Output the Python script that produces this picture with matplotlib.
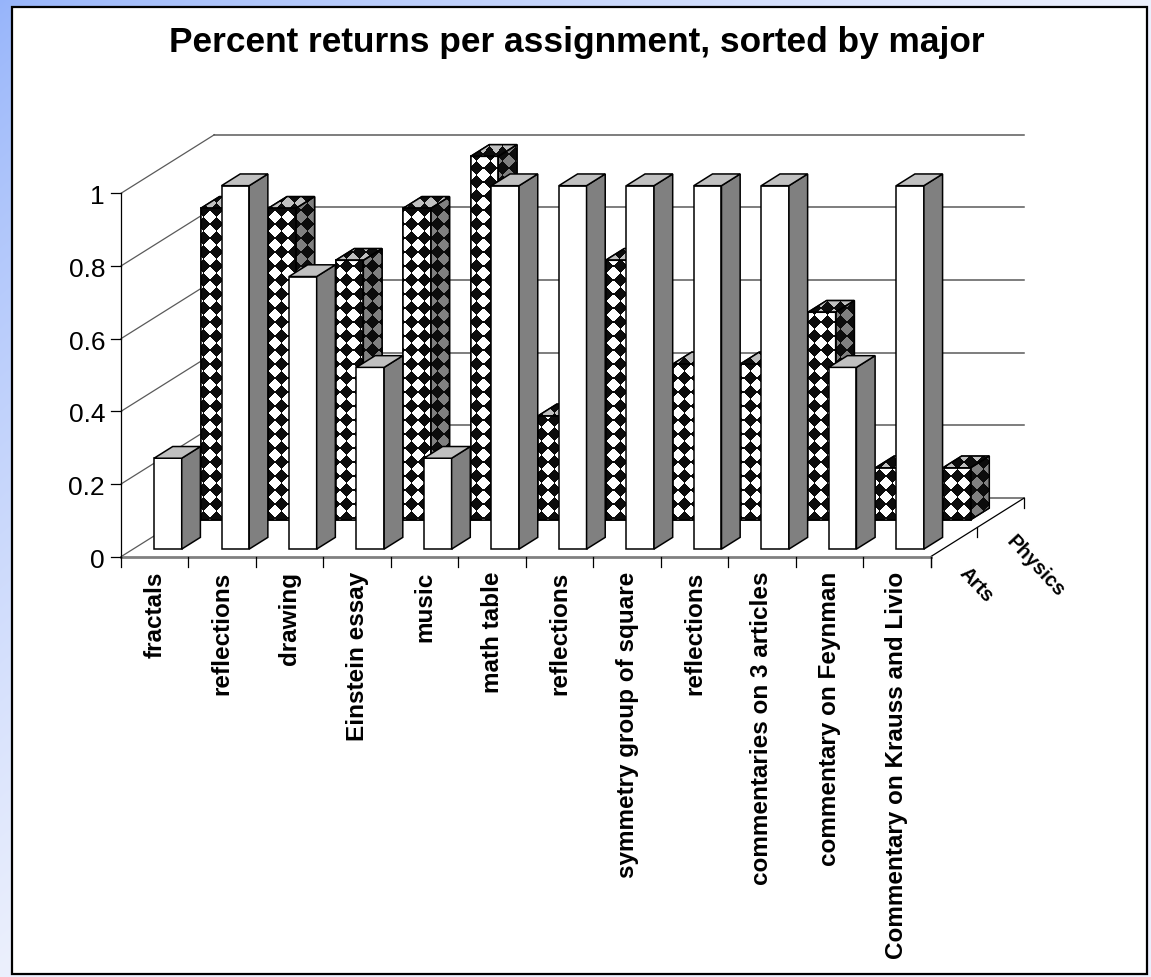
import numpy as np
import matplotlib
matplotlib.use("Agg")
import matplotlib.pyplot as plt
from matplotlib.patches import Polygon, Rectangle

# ---------------- data ----------------
categories = ["fractals", "reflections", "drawing", "Einstein essay", "music",
              "math table", "reflections", "symmetry group of square",
              "reflections", "commentaries on 3 articles",
              "commentary on Feynman", "Commentary on Krauss and Livio"]
series_names = ["Arts", "Physics"]
arts = [0.25, 1.0, 0.75, 0.5, 0.25, 1.0, 1.0, 1.0, 1.0, 1.0, 0.5, 1.0]
physics = [0.857, 0.857, 0.714, 0.857, 1.0, 0.286, 0.714, 0.429, 0.429,
           0.571, 0.143, 0.143]
yticks = [0, 0.2, 0.4, 0.6, 0.8, 1.0]
ytick_labels = ["0", "0.2", "0.4", "0.6", "0.8", "1"]
title = "Percent returns per assignment, sorted by major"

# ---------------- geometry / style ----------------
W, H = 1151, 977
X0PX, Y0PX = 121.0, 556.7      # pixel position of the front-left floor corner
PX, PY = 67.47, 363.4          # pixels per category, pixels per value unit
DX, DY = 93.4 / PX, 58.6 / PY  # full-depth oblique offset in data units
BX0, BW = 0.31, 0.41           # bar left offset and width within a category
ROW_D = {"Arts": (0.13, 0.33), "Physics": (0.63, 0.83)}
FONT = "Liberation Sans"
plt.rcParams["font.family"] = [FONT, "DejaVu Sans"]

n = len(categories)

fig = plt.figure(figsize=(W / 100, H / 100), dpi=100)

# background gradient + white chart area
bg = fig.add_axes([0, 0, 1, 1], zorder=-10)
gy, gx = np.mgrid[0:H, 0:W]
t = np.clip(gx / W + gy / H, 0, 1) ** 0.8
c0 = np.array([150, 180, 250]) / 255.0
c1 = np.array([236, 240, 253]) / 255.0
grad = c0[None, None, :] * (1 - t[..., None]) + c1[None, None, :] * t[..., None]
bg.imshow(grad, aspect="auto", extent=(0, 1, 0, 1), origin="upper")
bg.add_patch(Rectangle((12 / W, 1 - 974 / H), (1147 - 12) / W, (974 - 7) / H,
                       transform=bg.transAxes, facecolor="white",
                       edgecolor="black", lw=1.6))
bg.set_xlim(0, 1)
bg.set_ylim(0, 1)
bg.axis("off")

ax = fig.add_axes([0, 0, 1, 1])
ax.axis("off")
XL = (-X0PX / PX, (W - X0PX) / PX)
YL = ((Y0PX - H) / PY, Y0PX / PY)


def P(x, v, d):
    return (x + d * DX, v + d * DY)


def to_px(x, v):
    return X0PX + x * PX, Y0PX - v * PY


def to_data(px, py):
    return (px - X0PX) / PX, (Y0PX - py) / PY


# diamond (rotated checkerboard) pattern in pixel space
ppx, ppy = 13.0, 14.0
yy, xx = np.mgrid[0:H, 0:W] + 0.5
a = np.mod(xx - 210, ppx) / ppx
b = np.mod(yy - 287, ppy) / ppy
black = (np.abs(a - 0.5) + np.abs(b - 0.5)) < 0.5


def pattern(color):
    c = np.array(matplotlib.colors.to_rgb(color))
    img = np.ones((H, W, 3)) * c[None, None, :]
    img[black] = (0.05, 0.05, 0.05)
    return (img * 255).astype(np.uint8)


PAT = {"front": pattern("white"), "side": pattern("#808080"),
       "top": pattern("#c0c0c0")}


def pattern_fill(patch_verts, clip_patch, kind, z):
    pts = np.array([to_px(x, v) for x, v in patch_verts])
    px0 = max(int(np.floor(pts[:, 0].min())) - 2, 0)
    px1 = min(int(np.ceil(pts[:, 0].max())) + 2, W)
    py0 = max(int(np.floor(pts[:, 1].min())) - 2, 0)
    py1 = min(int(np.ceil(pts[:, 1].max())) + 2, H)
    sub = PAT[kind][py0:py1, px0:px1]
    xa, vt = to_data(px0, py0)
    xb, vb = to_data(px1, py1)
    im = ax.imshow(sub, extent=(xa, xb, vb, vt), origin="upper",
                   aspect="auto", interpolation="nearest", zorder=z)
    im.set_clip_path(clip_patch)


gridc = "#5a5a5a"
# walls: gridlines
for v in yticks:
    ax.plot([0, DX], [v, v + DY], color=gridc, lw=0.9, zorder=1)
    ax.plot([DX, n + DX], [v + DY, v + DY], color=gridc, lw=1.1, zorder=1)

# floor edges
ax.plot([n, n + DX], [0, DY], color="black", lw=0.9, zorder=2)
ax.plot([0, n], [0, 0], color="#808080", lw=2.0, zorder=2)

# value axis + ticks + labels
ax.plot([0, 0], [0, 1], color="black", lw=0.9, zorder=2)
for v, lbl in zip(yticks, ytick_labels):
    ax.plot([-10 / PX, 0], [v, v], color="black", lw=0.9, zorder=2)
    ax.annotate(lbl, xy=(0, v), xytext=(-16, -11), textcoords="offset pixels",
                ha="right", va="baseline", fontsize=19, family=FONT)

# category ticks + labels
for k in range(n + 1):
    ax.plot([k, k], [0, -10 / PY], color="black", lw=0.9, zorder=2)
for i, cat in enumerate(categories):
    ax.annotate(cat, xy=(i + 0.5, 0), xytext=(0, -15), textcoords="offset pixels",
                rotation=90, ha="center", va="top", fontsize=17.5,
                fontweight="bold", family=FONT)

# depth ticks + series labels
for d in (0, 0.5, 1.0):
    ax.plot([n + d * DX] * 2, [d * DY, d * DY - 10 / PY], color="black",
            lw=0.9, zorder=2)
for name, off in zip(series_names, [(24, -42), (37, -52)]):
    d0, d1 = ROW_D[name]
    dm = 0.5 * (d0 + d1)
    ax.annotate(name, xy=P(n, 0, dm), xytext=off, textcoords="offset pixels",
                rotation=-47, ha="center", va="center", fontsize=14.5,
                fontweight="bold", family=FONT)

# bars
edge_lw = 1.1


def draw_series(name, values, zbase, patterned):
    d0, d1 = ROW_D[name]
    lefts = [i + BX0 + d0 * DX for i in range(n)]
    bars = ax.bar(lefts, values, width=BW, bottom=d0 * DY, align="edge",
                  color="white", edgecolor="black", lw=edge_lw, zorder=zbase)
    for i, (bar, v) in enumerate(zip(bars, values)):
        x0 = i + BX0
        x1 = x0 + BW
        side_v = [P(x1, 0, d0), P(x1, 0, d1), P(x1, v, d1), P(x1, v, d0)]
        top_v = [P(x0, v, d0), P(x1, v, d0), P(x1, v, d1), P(x0, v, d1)]
        front_v = [P(x0, 0, d0), P(x1, 0, d0), P(x1, v, d0), P(x0, v, d0)]
        side = Polygon(side_v, closed=True, facecolor="#808080",
                       edgecolor="black", lw=edge_lw, zorder=zbase)
        top = Polygon(top_v, closed=True, facecolor="#c0c0c0",
                      edgecolor="black", lw=edge_lw, zorder=zbase)
        ax.add_patch(side)
        ax.add_patch(top)
        if patterned:
            pattern_fill(front_v, bar, "front", zbase + 0.3)
            pattern_fill(side_v, side, "side", zbase + 0.3)
            pattern_fill(top_v, top, "top", zbase + 0.3)
            for verts in (front_v, side_v, top_v):
                ax.add_patch(Polygon(verts, closed=True, facecolor="none",
                                     edgecolor="black", lw=edge_lw,
                                     joinstyle="miter", zorder=zbase + 0.6))


draw_series("Physics", physics, 10, True)
draw_series("Arts", arts, 20, False)

ax.set_xlim(*XL)
ax.set_ylim(*YL)
ax.set_autoscale_on(False)

fig.text(577 / W, 1 - 52 / H, title, ha="center", va="baseline",
         fontsize=25.4, fontweight="bold", family=FONT)

fig.savefig("out.png", dpi=100)
